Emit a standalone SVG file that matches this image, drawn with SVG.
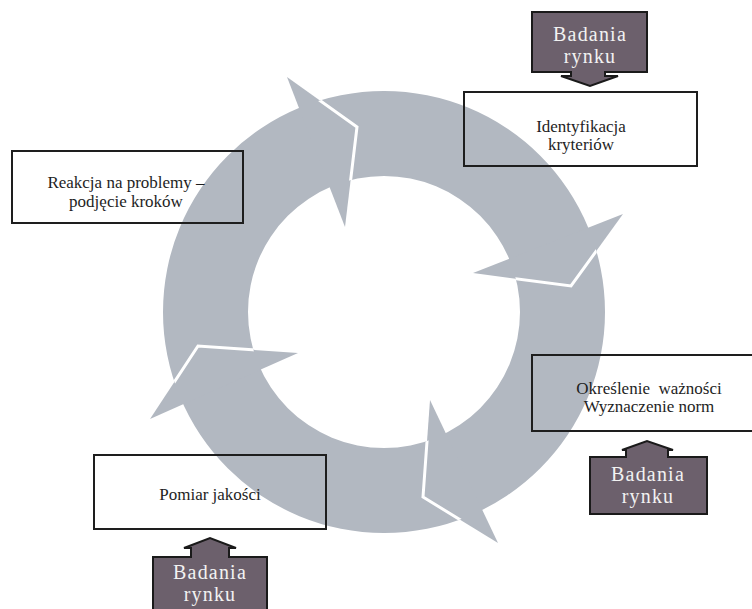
<svg xmlns="http://www.w3.org/2000/svg" width="752" height="609" viewBox="0 0 752 609">
  <defs>
    <style>
      .ring { fill: #b2b8c1; }
      .head { fill: #b2b8c1; stroke: none; }
      .gap { fill: none; stroke: #ffffff; stroke-width: 3; stroke-linejoin: miter; }
      .box { fill: none; stroke: #1e1e1e; stroke-width: 2; }
      .label { font-family: "Liberation Serif", "DejaVu Serif", serif; font-size: 17px; fill: #1e1e1e; text-anchor: middle; }
      .badge { fill: #6c606c; stroke: #1a1a1a; stroke-width: 2; stroke-linejoin: miter; }
      .badgetext { font-family: "Liberation Serif", "DejaVu Serif", serif; font-size: 20px; letter-spacing: 1.2px; fill: #f2f2f2; text-anchor: middle; }
    </style>
    <clipPath id="annulus">
      <path clip-rule="evenodd" d="M163,312 A221,221 0 1,1 605,312 A221,221 0 1,1 163,312 Z M248,312 A136,136 0 1,0 520,312 A136,136 0 1,0 248,312 Z"/>
    </clipPath>
  </defs>

  <g id="connectors">
    <path class="ring" fill-rule="evenodd" d="M163,312 A221,221 0 1,1 605,312 A221,221 0 1,1 163,312 Z M248,312 A136,136 0 1,0 520,312 A136,136 0 1,0 248,312 Z"/>
    <polygon class="head" points="287,77 357,127 345,227"/>
    <polygon class="head" points="623,214 571,286 473,273"/>
    <polygon class="head" points="498,543 423,497 430,400"/>
    <polygon class="head" points="150,419 198,346 298,353"/>
    <g clip-path="url(#annulus)">
      <polyline class="gap" points="287,77 357,127 345,227"/>
      <polyline class="gap" points="623,214 571,286 473,273"/>
      <polyline class="gap" points="498,543 423,497 430,400"/>
      <polyline class="gap" points="150,419 198,346 298,353"/>
    </g>
  </g>

  <g id="node-identyfikacja">
    <rect class="box" x="464" y="92" width="233" height="74"/>
    <text class="label" x="581" y="132">Identyfikacja</text>
    <text class="label" x="581" y="150">kryteriów</text>
  </g>

  <g id="node-reakcja">
    <rect class="box" x="12" y="151" width="231" height="72"/>
    <text class="label" x="126" y="188">Reakcja na problemy –</text>
    <text class="label" x="126" y="207">podjęcie kroków</text>
  </g>

  <g id="node-okreslenie">
    <rect class="box" x="532" y="355" width="234" height="76"/>
    <text class="label" x="649" y="394" style="white-space:pre">Określenie  ważności</text>
    <text class="label" x="649" y="412">Wyznaczenie norm</text>
  </g>

  <g id="node-pomiar">
    <rect class="box" x="94" y="455" width="232" height="74"/>
    <text class="label" x="210" y="500">Pomiar jakości</text>
  </g>

  <g id="node-badania-top">
    <path class="badge" d="M532,12 H647 V72 H605 V76 H618 L590,86 L561,76 H571 V72 H532 Z"/>
    <text class="badgetext" x="590" y="41">Badania</text>
    <text class="badgetext" x="590" y="63">rynku</text>
  </g>

  <g id="node-badania-right">
    <path class="badge" d="M590,457 H626 V450 H622 L647,441 L673,450 H668 V457 H707 V514 H590 Z"/>
    <text class="badgetext" x="648" y="481">Badania</text>
    <text class="badgetext" x="648" y="503">rynku</text>
  </g>

  <g id="node-badania-bottom">
    <path class="badge" d="M153,557 H191 V548 H184 L210,538 L236,548 H229 V557 H267 V620 H153 Z"/>
    <text class="badgetext" x="210" y="579">Badania</text>
    <text class="badgetext" x="210" y="601">rynku</text>
  </g>
</svg>
